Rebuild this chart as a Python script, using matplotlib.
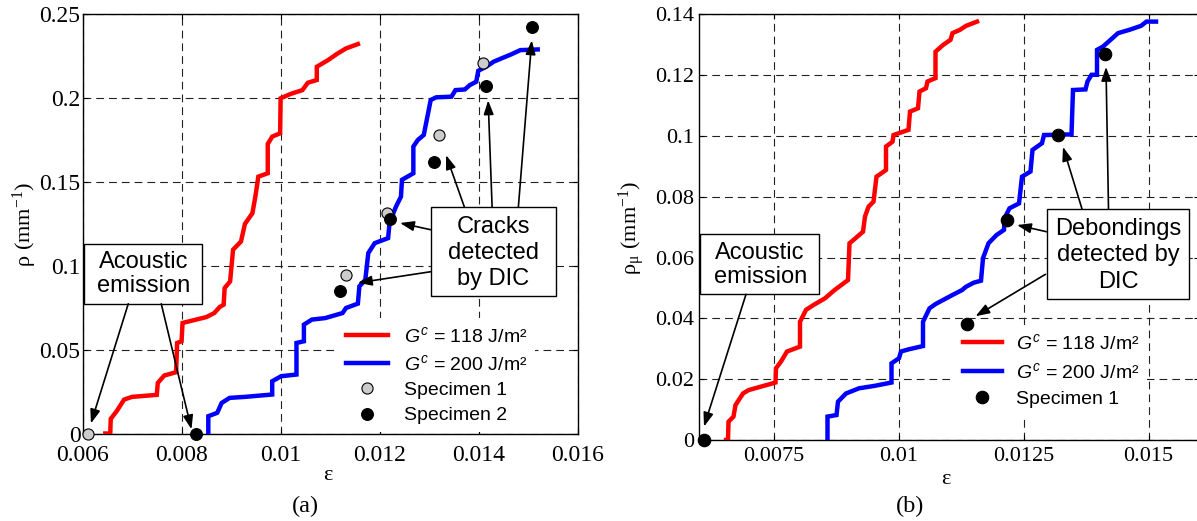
import matplotlib
matplotlib.use('Agg')
import matplotlib.pyplot as plt
from matplotlib.patches import Rectangle
from matplotlib.ticker import FixedLocator, FuncFormatter

# ---------------- data: panel (a) ----------------
a_red_strain = [0.00646, 0.00656, 0.00657, 0.00669, 0.00684, 0.00700, 0.00750, 0.00752, 0.00765,
                0.00789, 0.00791, 0.00800, 0.00802, 0.00850, 0.00866, 0.00877, 0.00885, 0.00887,
                0.00898, 0.00904, 0.00920, 0.00928, 0.00943, 0.00949, 0.00955, 0.00974, 0.00974,
                0.00983, 0.00999, 0.01000, 0.01020, 0.01044, 0.01055, 0.01073, 0.01073, 0.01096,
                0.01113, 0.01132, 0.01156]
a_red_rho = [0.0, 0.0, 0.0087, 0.0133, 0.0202, 0.0218, 0.0230, 0.0301, 0.0345,
             0.0365, 0.0539, 0.0549, 0.0658, 0.0693, 0.0717, 0.0753, 0.0767, 0.0866,
             0.0905, 0.1094, 0.1143, 0.1248, 0.1311, 0.1410, 0.1529, 0.1549, 0.1723,
             0.1767, 0.1787, 0.1995, 0.2021, 0.2044, 0.2088, 0.2104, 0.2183, 0.2223,
             0.2258, 0.2292, 0.2318]

a_blue_strain = [0.00854, 0.00854, 0.00872, 0.00881, 0.00897, 0.00928, 0.00983, 0.00983, 0.01001,
                 0.01032, 0.01032, 0.01047, 0.01047, 0.01063, 0.01090, 0.01125, 0.01132, 0.01156,
                 0.01159, 0.01171, 0.01177, 0.01190, 0.01217, 0.01220, 0.01233, 0.01243, 0.01245,
                 0.01268, 0.01268, 0.01277, 0.01289, 0.01303, 0.01314, 0.01345, 0.01353, 0.01372,
                 0.01382, 0.01395, 0.01399, 0.01415, 0.01430, 0.01446, 0.01465, 0.01484, 0.01519]
a_blue_rho = [0.0, 0.0103, 0.0123, 0.0182, 0.0212, 0.0218, 0.0232, 0.0311, 0.0341,
              0.0351, 0.0539, 0.0549, 0.0648, 0.0678, 0.0687, 0.0717, 0.0747, 0.0773,
              0.0876, 0.0915, 0.1074, 0.1133, 0.1163, 0.1256, 0.1351, 0.1410, 0.1510,
              0.1549, 0.1708, 0.1747, 0.1777, 0.1985, 0.2001, 0.2005, 0.2044, 0.2048,
              0.2074, 0.2094, 0.2159, 0.2183, 0.2213, 0.2233, 0.2256, 0.2282, 0.2286]

a_spec1_strain = [0.00611, 0.01132, 0.01215, 0.01319, 0.01409]
a_spec1_rho = [0.0, 0.0945, 0.1311, 0.1777, 0.2207]
a_spec2_strain = [0.00829, 0.01119, 0.01221, 0.01310, 0.01415, 0.01507]
a_spec2_rho = [0.0, 0.0846, 0.1276, 0.1618, 0.2068, 0.2417]

a_xticks = [0.006, 0.008, 0.010, 0.012, 0.014, 0.016]
a_yticks = [0.0, 0.05, 0.10, 0.15, 0.20, 0.25]

# ---------------- data: panel (b) ----------------
b_red_strain = [0.00655, 0.00659, 0.00660, 0.00670, 0.00674, 0.00689, 0.00700, 0.00754, 0.00755,
                0.00765, 0.00777, 0.00803, 0.00803, 0.00815, 0.00830, 0.00853, 0.00872, 0.00899,
                0.00902, 0.00910, 0.00929, 0.00933, 0.00940, 0.00950, 0.00956, 0.00975, 0.00975,
                0.00988, 0.00990, 0.01020, 0.01023, 0.01039, 0.01042, 0.01055, 0.01058, 0.01074,
                0.01074, 0.01089, 0.01104, 0.01108, 0.01123, 0.01135, 0.01157]
b_red_rho = [0.0, 0.0, 0.0060, 0.0077, 0.0115, 0.0153, 0.0164, 0.0189, 0.0236,
             0.0258, 0.0291, 0.0307, 0.0389, 0.0428, 0.0444, 0.0466, 0.0493, 0.0526,
             0.0647, 0.0658, 0.0685, 0.0735, 0.0767, 0.0784, 0.0866, 0.0888, 0.0965,
             0.0981, 0.1003, 0.1020, 0.1080, 0.1091, 0.1146, 0.1157, 0.1179, 0.1190,
             0.1277, 0.1299, 0.1316, 0.1338, 0.1349, 0.1362, 0.1376]

b_blue_strain = [0.00858, 0.00858, 0.00876, 0.00879, 0.00895, 0.00921, 0.00952, 0.00986, 0.00986,
                 0.01001, 0.01005, 0.01020, 0.01049, 0.01049, 0.01062, 0.01074, 0.01108, 0.01127,
                 0.01135, 0.01150, 0.01165, 0.01169, 0.01180, 0.01196, 0.01211, 0.01212, 0.01222,
                 0.01241, 0.01247, 0.01264, 0.01268, 0.01287, 0.01291, 0.01346, 0.01349, 0.01374,
                 0.01378, 0.01386, 0.01397, 0.01397, 0.01409, 0.01420, 0.01439, 0.01462, 0.01485,
                 0.01496, 0.01515]
b_blue_rho = [0.0, 0.0077, 0.0082, 0.0126, 0.0153, 0.0170, 0.0178, 0.0189, 0.0252,
              0.0269, 0.0291, 0.0298, 0.0309, 0.0389, 0.0433, 0.0447, 0.0477, 0.0493,
              0.0504, 0.0517, 0.0524, 0.0598, 0.0647, 0.0674, 0.0691, 0.0729, 0.0762,
              0.0778, 0.0866, 0.0883, 0.0954, 0.0976, 0.1003, 0.1005, 0.1151, 0.1153,
              0.1179, 0.1201, 0.1201, 0.1283, 0.1294, 0.1310, 0.1338, 0.1349, 0.1362,
              0.1376, 0.1376]

b_spec1_strain = [0.00611, 0.01136, 0.01217, 0.01319, 0.01413]
b_spec1_rho = [0.0, 0.0382, 0.0724, 0.1003, 0.1270]

b_xticks = [0.0075, 0.0100, 0.0125, 0.0150]
b_yticks = [0.0, 0.02, 0.04, 0.06, 0.08, 0.10, 0.12, 0.14]

label_red = r'$G^c$ = 118 J/m²'
label_blue = r'$G^c$ = 200 J/m²'

# ---------------- style ----------------
plt.rcParams['font.family'] = ['Liberation Serif', 'DejaVu Serif']
plt.rcParams['mathtext.fontset'] = 'custom'
plt.rcParams['mathtext.rm'] = 'Liberation Serif'
plt.rcParams['mathtext.it'] = 'Liberation Sans:italic'
plt.rcParams['mathtext.bf'] = 'Liberation Serif:bold'

SANS = ['Liberation Sans', 'DejaVu Sans']
W, H = 1197, 521
fig = plt.figure(figsize=(W / 100, H / 100), dpi=100)


def px_axes(x0, x1, ytop, ybot):
    return fig.add_axes([x0 / W, (H - ybot) / H, (x1 - x0) / W, (ybot - ytop) / H])


axA = px_axes(82.5, 577.8, 13.5, 433.5)
axB = px_axes(698.5, 1198.5, 14.3, 440)

fmt = FuncFormatter(lambda v, p: '%g' % round(v, 6))


def style_axes(ax, xt, yt, xlim, ylim, fs, xpad, ypad):
    ax.set_xlim(*xlim)
    ax.set_ylim(*ylim)
    ax.xaxis.set_major_locator(FixedLocator(xt))
    ax.yaxis.set_major_locator(FixedLocator(yt))
    ax.xaxis.set_major_formatter(fmt)
    ax.yaxis.set_major_formatter(fmt)
    ax.grid(True, color='#222222', lw=0.8, linestyle=(0, (7, 4.5)))
    ax.set_axisbelow(True)
    ax.tick_params(axis='both', direction='in', length=3.5, width=0.8, labelsize=fs,
                   top=True, right=True)
    ax.tick_params(axis='x', pad=xpad)
    ax.tick_params(axis='y', pad=ypad)
    for s in ax.spines.values():
        s.set_linewidth(1.0)


style_axes(axA, a_xticks, a_yticks, (0.006, 0.016), (0.0, 0.25), 17, 8.5, 1.5)
style_axes(axB, b_xticks, b_yticks, (0.006, 0.016), (0.0, 0.14), 16, 5, 3)

# ---------------- panel (a) ----------------
axA.plot(a_red_strain, a_red_rho, color='#ff0000', lw=3.2, label=label_red, zorder=3,
         solid_joinstyle='miter')
axA.plot(a_blue_strain, a_blue_rho, color='#0000ff', lw=3.2, label=label_blue, zorder=3,
         solid_joinstyle='miter')
axA.plot(a_spec1_strain, a_spec1_rho, 'o', ms=8, mfc='#cccccc', mec='black', mew=0.8,
         label='Specimen 1', clip_on=False, zorder=6)
axA.plot(a_spec2_strain, a_spec2_rho, 'o', ms=8.5, mfc='black', mec='black', mew=0.8,
         label='Specimen 2', clip_on=False, zorder=6)

legA = axA.legend(loc='upper left', bbox_to_anchor=(0.517, 0.275), prop={'family': SANS, 'size': 14},
                  frameon=True, facecolor='white', edgecolor='none', framealpha=1.0, fancybox=False,
                  handlelength=2.15, handletextpad=0.82, labelspacing=0.40, borderpad=0.4,
                  borderaxespad=0.0, numpoints=1)
legA.set_zorder(5)

# ---------------- panel (b) ----------------
axB.plot(b_red_strain, b_red_rho, color='#ff0000', lw=3.2, label=label_red, zorder=3,
         solid_joinstyle='miter')
axB.plot(b_blue_strain, b_blue_rho, color='#0000ff', lw=3.2, label=label_blue, zorder=3,
         solid_joinstyle='miter')
axB.plot(b_spec1_strain, b_spec1_rho, 'o', ms=9, mfc='black', mec='black', mew=0.8,
         label='Specimen 1', clip_on=False, zorder=6)

legB = axB.legend(loc='upper left', bbox_to_anchor=(0.513, 0.27), prop={'family': SANS, 'size': 14},
                  frameon=True, facecolor='white', edgecolor='none', framealpha=1.0, fancybox=False,
                  handlelength=2.0, handletextpad=0.73, labelspacing=0.45, borderpad=0.4,
                  borderaxespad=0.0, numpoints=1)
legB.set_zorder(5)


# ---------------- annotation boxes and arrows ----------------
def box(ax, x0, x1, y0, y1, text, tx, ty, ls):
    ax.add_patch(Rectangle((x0, y0), x1 - x0, y1 - y0, facecolor='white', edgecolor='black',
                           lw=1.0, zorder=8, clip_on=False))
    ax.text(tx, ty, text, ha='center', va='center', fontsize=17, family=SANS,
            linespacing=ls, zorder=9)


def arrow(ax, start, end):
    ax.annotate('', xy=end, xytext=start, zorder=10, annotation_clip=False,
                arrowprops=dict(arrowstyle='-|>,head_length=0.7,head_width=0.25', color='black',
                                lw=1.2, shrinkA=0, shrinkB=0, mutation_scale=12))


box(axA, 0.006036, 0.00842, 0.0772, 0.1128, 'Acoustic\nemission', 0.00723, 0.0950, 1.12)
arrow(axA, (0.006924, 0.0772), (0.00617, 0.0060))
arrow(axA, (0.00759, 0.0772), (0.00820, 0.0025))

box(axA, 0.01303, 0.01556, 0.0819, 0.1348, 'Cracks\ndetected\nby DIC', 0.01429, 0.1075, 1.25)
arrow(axA, (0.01303, 0.1213), (0.01241, 0.1253))
arrow(axA, (0.01303, 0.0963), (0.01156, 0.0897))
arrow(axA, (0.01371, 0.1348), (0.01334, 0.1657))
arrow(axA, (0.01427, 0.1348), (0.01419, 0.1983))
arrow(axA, (0.01480, 0.1348), (0.01507, 0.2340))

box(axB, 0.00603, 0.00840, 0.0479, 0.0679, 'Acoustic\nemission', 0.007234, 0.0577, 1.12)
arrow(axB, (0.00695, 0.0479), (0.00611, 0.0044))

box(axB, 0.01296, 0.01581, 0.0464, 0.0760, 'Debondings\ndetected by\nDIC', 0.01439, 0.0608, 1.27)
arrow(axB, (0.01296, 0.0685), (0.01237, 0.0707))
arrow(axB, (0.01294, 0.0545), (0.01154, 0.0407))
arrow(axB, (0.01367, 0.0760), (0.01329, 0.0964))
arrow(axB, (0.01420, 0.0760), (0.01415, 0.1227))

# ---------------- labels ----------------
def ftext(x, y, s, **kw):
    fig.text(x / W, 1 - y / H, s, ha='center', va='center', **kw)


ftext(25, 224, r'$\mathrm{\rho\ (mm^{-1})}$', rotation=90, fontsize=16)
ftext(632, 228, r'$\mathrm{\rho_{\mu}\ (mm^{-1})}$', rotation=90, fontsize=16)
ftext(328, 476, 'ε', fontsize=16)
ftext(946, 479, 'ε', fontsize=16)
ftext(305, 506, '(a)', fontsize=17.5)
ftext(910, 506, '(b)', fontsize=17.5)

fig.savefig('out.png', dpi=100)
